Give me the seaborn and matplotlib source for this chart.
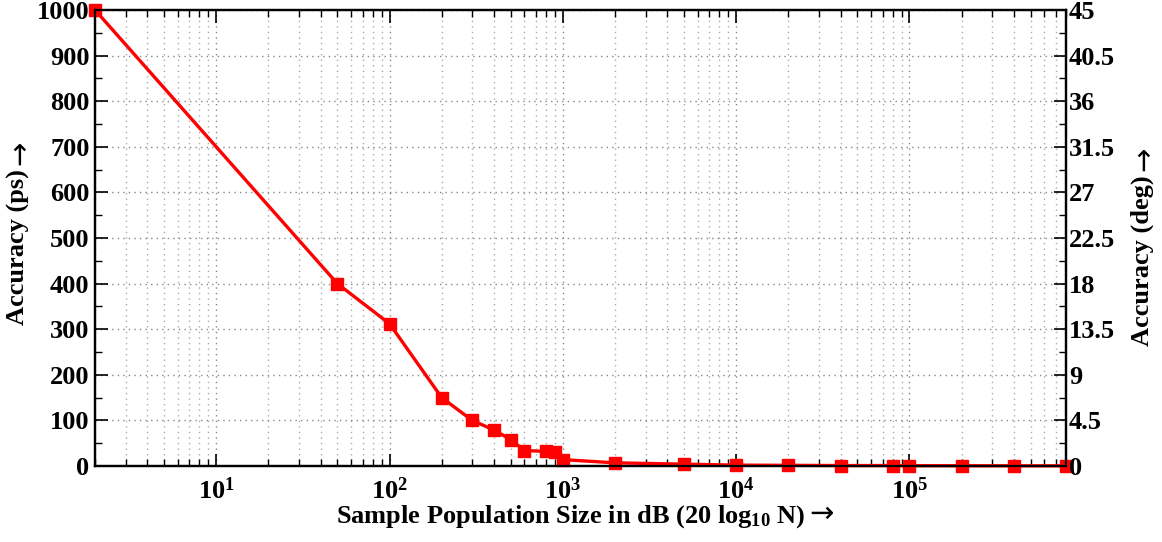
import numpy as np
import pandas as pd
import matplotlib
matplotlib.use("Agg")
import matplotlib.pyplot as plt
import matplotlib.ticker as mticker
import seaborn as sns

# Data
sample_size = [2, 50, 100, 200, 300, 400, 500, 600, 800, 900, 1000,
               2000, 5000, 10000, 20000, 40000, 80000, 100000, 200000,
               400000, 800000]
accuracy_ps = [1000, 400, 312, 150, 100, 79, 58, 34, 32, 31, 14,
               7, 4, 2, 1.5, 1, 1, 0.8, 0.6, 0.5, 0.4]
deg_ticks = [0, 4.5, 9, 13.5, 18, 22.5, 27, 31.5, 36, 40.5, 45]
ps_ticks = list(range(0, 1001, 100))

df = pd.DataFrame({"N": sample_size, "ps": accuracy_ps})

sns.set_style("ticks")
plt.rcParams["font.family"] = ["Liberation Serif", "DejaVu Serif"]
plt.rcParams["font.weight"] = "bold"
plt.rcParams["text.color"] = "black"
plt.rcParams["axes.labelcolor"] = "black"
plt.rcParams["xtick.color"] = "black"
plt.rcParams["ytick.color"] = "black"
plt.rcParams["mathtext.fontset"] = "custom"
plt.rcParams["mathtext.rm"] = "Liberation Serif:bold"
plt.rcParams["mathtext.bf"] = "Liberation Serif:bold"
plt.rcParams["mathtext.it"] = "Liberation Serif:bold"
plt.rcParams["mathtext.default"] = "bf"

fig = plt.figure(figsize=(11.62, 5.42), dpi=100)
ax = fig.add_axes([0.0818, 0.1402, 0.9174 - 0.0818, 0.9815 - 0.1402])

sns.lineplot(data=df, x="N", y="ps", ax=ax, color="red", linewidth=2.4,
             marker="s", markersize=8, markerfacecolor="red",
             markeredgecolor="red", markeredgewidth=1.0, zorder=5,
             clip_on=False)

ax.set_xscale("log")
ax.set_xlim(2, 8e5)
ax.set_ylim(0, 1000)
ax.set_yticks(ps_ticks)
ax.yaxis.set_minor_locator(mticker.MultipleLocator(50))
ax.xaxis.set_minor_locator(mticker.LogLocator(base=10, subs=np.arange(2, 10)))
ax.xaxis.set_minor_formatter(mticker.NullFormatter())

grid_ls = (0, (1, 3))
ax.grid(True, which="major", linestyle=grid_ls, color="#888888", linewidth=1.0)
ax.grid(True, which="minor", axis="x", linestyle=grid_ls, color="#aaaaaa", linewidth=1.0)

ax.tick_params(which="major", direction="in", length=9, width=1.2,
               labelsize=19, top=True, right=False)
ax.tick_params(which="minor", direction="in", length=5, width=1.0,
               top=True, right=False)
ax.tick_params(axis="x", pad=8)
ax.tick_params(axis="y", pad=4)

for sp in ax.spines.values():
    sp.set_linewidth(1.6)
    sp.set_color("black")

ax.set_xlabel("Sample Population Size in dB (20 log$_{10}$ N)",
              fontsize=19, fontweight="bold", labelpad=0)
ax.set_ylabel("Accuracy (ps)", fontsize=19, fontweight="bold", labelpad=5)
ax.xaxis.label.set_x(0.49)
ax.yaxis.label.set_y(0.48)

ax2 = ax.twinx()
ax2.set_ylim(0, 45)
ax2.set_yticks(deg_ticks)
ax2.set_yticklabels([f"{t:g}" for t in deg_ticks])
ax2.yaxis.set_minor_locator(mticker.MultipleLocator(2.25))
ax2.tick_params(which="major", direction="in", length=9, width=1.2,
                labelsize=19, pad=2)
ax2.tick_params(which="minor", direction="in", length=5, width=1.0)
ax2.set_ylabel("Accuracy (deg)", fontsize=19, fontweight="bold", labelpad=11)
ax2.yaxis.label.set_y(0.45)
for sp in ax2.spines.values():
    sp.set_linewidth(1.6)
    sp.set_color("black")

# arrows after the axis labels
arrow_kw = dict(fontsize=21, fontfamily="DejaVu Sans", fontweight="normal",
                textcoords="offset points", annotation_clip=False)
ax.annotate("\u2192", xy=(1, 0.6), xycoords=ax.xaxis.label, xytext=(3, 0),
            ha="left", va="center", **arrow_kw)
ax.annotate("\u2192", xy=(0.6, 1), xycoords=ax.yaxis.label, xytext=(0, 3),
            ha="center", va="bottom", rotation=90, **arrow_kw)
ax2.annotate("\u2192", xy=(0.6, 1), xycoords=ax2.yaxis.label, xytext=(0, 3),
             ha="center", va="bottom", rotation=90, **arrow_kw)

fig.savefig("out.png", dpi=100)
